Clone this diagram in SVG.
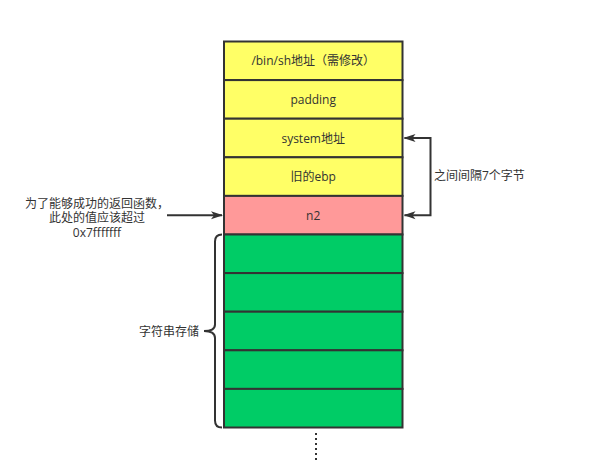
<svg xmlns="http://www.w3.org/2000/svg" width="597" height="464" viewBox="0 0 597 464">
<style>
.cell{stroke:#333;stroke-width:2}
.y{fill:#FFFF66}.r{fill:#FF9999}.g{fill:#00CC66}
text{font-family:"Open Sans","Noto Sans CJK SC",sans-serif;font-size:12px;fill:#333}
.c{text-anchor:middle;dominant-baseline:central}
.ln{fill:none;stroke:#333;stroke-width:2}
</style>
<defs>
<marker id="ah" viewBox="0 0 12 10" refX="11" refY="5" markerWidth="12" markerHeight="10" markerUnits="userSpaceOnUse" orient="auto-start-reverse">
<path d="M0,1 L12,5 L0,9 L3,5 Z" fill="#333"/>
</marker>
</defs>
<rect width="597" height="464" fill="#fff"/>
<g id="n-binsh"><rect class="cell y" x="224" y="41.5" width="178.5" height="38.6"/><text class="c" x="313.2" y="60.8">/bin/sh地址（需修改）</text></g>
<g id="n-padding"><rect class="cell y" x="224" y="80.1" width="178.5" height="38.6"/><text class="c" x="313.2" y="99.4">padding</text></g>
<g id="n-system"><rect class="cell y" x="224" y="118.7" width="178.5" height="38.6"/><text class="c" x="313.2" y="138">system地址</text></g>
<g id="n-ebp"><rect class="cell y" x="224" y="157.3" width="178.5" height="38.6"/><text class="c" x="313.2" y="176.6">旧的ebp</text></g>
<g id="n-n2"><rect class="cell r" x="224" y="195.9" width="178.5" height="38.6"/><text class="c" x="313.2" y="215.2">n2</text></g>
<g id="n-s1"><rect class="cell g" x="224" y="234.5" width="178.5" height="38.6"/></g>
<g id="n-s2"><rect class="cell g" x="224" y="273.1" width="178.5" height="38.6"/></g>
<g id="n-s3"><rect class="cell g" x="224" y="311.7" width="178.5" height="38.6"/></g>
<g id="n-s4"><rect class="cell g" x="224" y="350.3" width="178.5" height="38.6"/></g>
<g id="n-s5"><rect class="cell g" x="224" y="388.9" width="178.5" height="38.6"/></g>
<g id="label-left"><text class="c" x="97" y="203">为了能够成功的返回函数，</text><text class="c" x="97" y="217.5">此处的值应该超过</text><text class="c" x="97" y="232">0x7fffffff</text></g>
<g id="label-right"><text x="434" y="175.5" dominant-baseline="central">之间间隔7个字节</text></g>
<g id="label-brace"><text x="199" y="331" text-anchor="end" dominant-baseline="central">字符串存储</text></g>
<g id="connectors">
<path class="ln" d="M167,215.2 H222" marker-end="url(#ah)"/>
<path class="ln" d="M404.5,138 H430.5 V215.2 H404.5" marker-start="url(#ah)" marker-end="url(#ah)"/>
<path class="ln" d="M222,234.5 Q215,234.5 215,241.5 V324.5 Q215,331 204,331 Q215,331 215,338 V420.5 Q215,427.5 222,427.5"/>
<path class="ln" d="M316,433 V461" stroke-dasharray="2 3"/>
</g>
</svg>
